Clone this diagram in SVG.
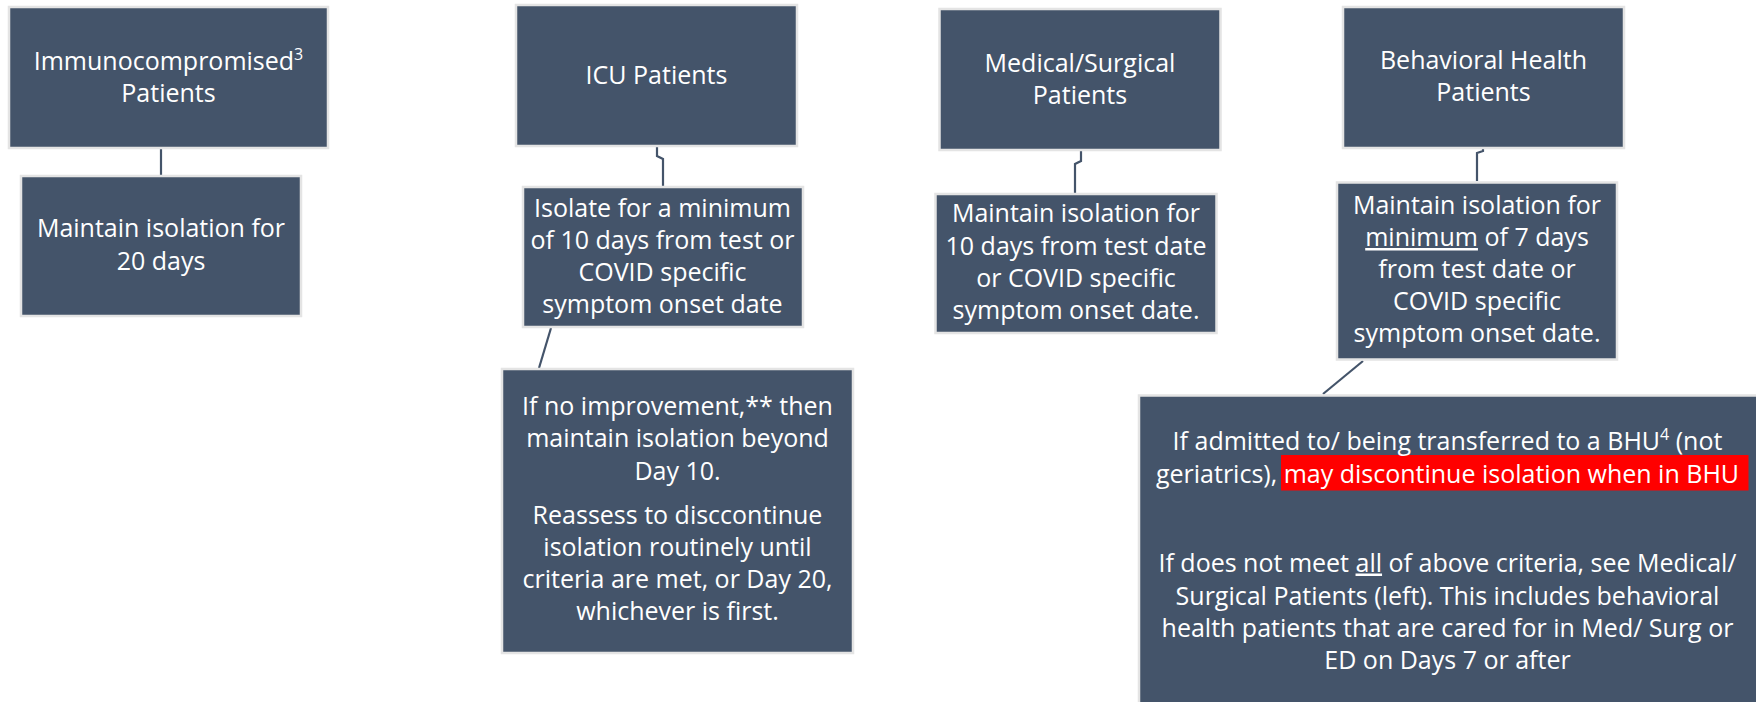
<svg xmlns="http://www.w3.org/2000/svg" width="1756" height="702" viewBox="0 0 1756 702">
<style>
.box{fill:#44546A;stroke:#E4E4E4;stroke-width:2.5}
.t{font-family:"Open Sans","Liberation Sans",sans-serif;font-size:25px;fill:#FFFFFF;text-anchor:middle}
.conn{fill:none;stroke:#44546A;stroke-width:2.2}
</style>
<rect width="1756" height="702" fill="#FFFFFF"/>
<g id="connectors">
<path class="conn" d="M161,148 V175"/>
<path class="conn" d="M657,147 V156 L663,159 V186"/>
<path class="conn" d="M551,328 L539,368"/>
<path class="conn" d="M1081,151 V161 L1075,164 V193"/>
<path class="conn" d="M1483,149 V151 L1477,153 V181"/>
<path class="conn" d="M1363,361 L1323,394"/>
</g>
<g id="immuno">
<rect class="box" x="9" y="7" width="319" height="141"/>
<text class="t" x="168.5" y="70">Immunocompromised<tspan font-size="16" dy="-10">3</tspan></text>
<text class="t" x="168.5" y="102">Patients</text>
</g>
<g id="immuno-iso">
<rect class="box" x="21" y="176" width="280" height="140"/>
<text class="t" x="161" y="237">Maintain isolation for</text>
<text class="t" x="161" y="270">20 days</text>
</g>
<g id="icu">
<rect class="box" x="516" y="5" width="281" height="141"/>
<text class="t" x="656.5" y="84">ICU Patients</text>
</g>
<g id="icu-iso">
<rect class="box" x="523" y="187" width="280" height="140"/>
<text class="t" x="662.5" y="216.5">Isolate for a minimum</text>
<text class="t" x="662.5" y="248.5">of 10 days from test or</text>
<text class="t" x="662.5" y="280.5">COVID specific</text>
<text class="t" x="662.5" y="312.5">symptom onset date</text>
</g>
<g id="icu-noimp">
<rect class="box" x="502" y="369" width="351" height="284"/>
<text class="t" x="677.5" y="415">If no improvement,** then</text>
<text class="t" x="677.5" y="447">maintain isolation beyond</text>
<text class="t" x="677.5" y="479.5">Day 10.</text>
<text class="t" x="677.5" y="523.5">Reassess to disccontinue</text>
<text class="t" x="677.5" y="556">isolation routinely until</text>
<text class="t" x="677.5" y="588">criteria are met, or Day 20,</text>
<text class="t" x="677.5" y="620">whichever is first.</text>
</g>
<g id="medsurg">
<rect class="box" x="939.5" y="9" width="281" height="141"/>
<text class="t" x="1080" y="71.5">Medical/Surgical</text>
<text class="t" x="1080" y="103.5">Patients</text>
</g>
<g id="medsurg-iso">
<rect class="box" x="935.5" y="194" width="281" height="139"/>
<text class="t" x="1076" y="221.5">Maintain isolation for</text>
<text class="t" x="1076" y="254.5">10 days from test date</text>
<text class="t" x="1076" y="286.5">or COVID specific</text>
<text class="t" x="1076" y="318.5">symptom onset date.</text>
</g>
<g id="bh">
<rect class="box" x="1343" y="7" width="281" height="141"/>
<text class="t" x="1483.5" y="68.5">Behavioral Health</text>
<text class="t" x="1483.5" y="100.5">Patients</text>
</g>
<g id="bh-iso">
<rect class="box" x="1337" y="182.5" width="280" height="177"/>
<text class="t" x="1477" y="213.5">Maintain isolation for</text>
<text class="t" x="1477" y="246"><tspan text-decoration="underline">minimum</tspan> of 7 days</text>
<text class="t" x="1477" y="277.5">from test date or</text>
<text class="t" x="1477" y="309.5">COVID specific</text>
<text class="t" x="1477" y="341.5">symptom onset date.</text>
</g>
<g id="bhu">
<rect class="box" x="1139" y="395.5" width="620" height="320"/>
<rect x="1281" y="455" width="467.5" height="35.5" fill="#FF0000"/>
<text class="t" x="1447.5" y="450">If admitted to/ being transferred to a BHU<tspan font-size="16" dy="-10">4</tspan><tspan dy="10"> (not</tspan></text>
<text class="t" x="1447.5" y="482.5">geriatrics), may discontinue isolation when in BHU</text>
<text class="t" x="1447.5" y="571.5">If does not meet <tspan text-decoration="underline">all</tspan> of above criteria, see Medical/</text>
<text class="t" x="1447.5" y="604.5">Surgical Patients (left). This includes behavioral</text>
<text class="t" x="1447.5" y="636.5">health patients that are cared for in Med/ Surg or</text>
<text class="t" x="1447.5" y="668.5">ED on Days 7 or after</text>
</g>
</svg>
